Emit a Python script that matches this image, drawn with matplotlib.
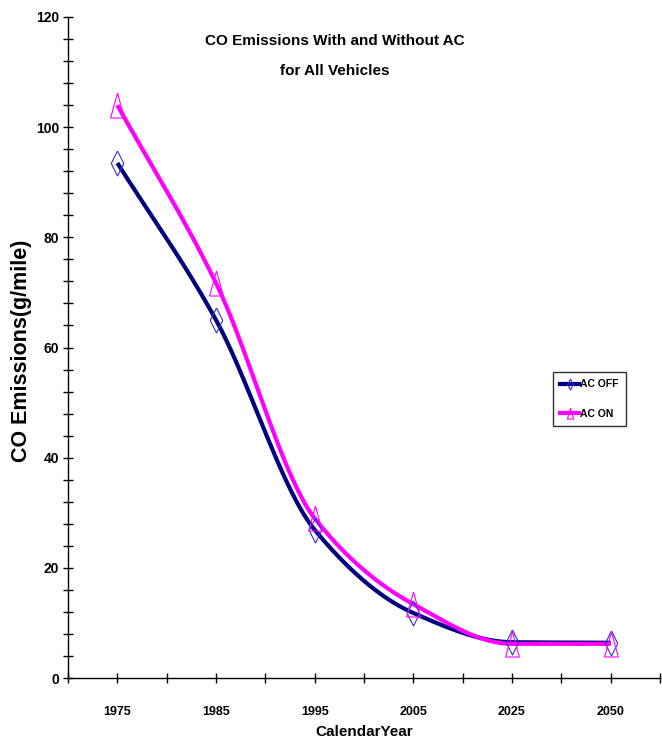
import numpy as np
import matplotlib
matplotlib.use("Agg")
import matplotlib.pyplot as plt
from matplotlib.lines import Line2D
from matplotlib.ticker import FixedLocator, MultipleLocator

categories = ["1975", "1985", "1995", "2005", "2025", "2050"]
ac_off = [93.5, 65.0, 26.9, 11.8, 6.5, 6.4]
ac_on = [104.0, 71.7, 29.0, 13.4, 6.2, 6.2]
title = "CO Emissions With and Without AC\nfor All Vehicles"

FONT = ["Liberation Sans", "DejaVu Sans"]
plt.rcParams["font.family"] = FONT
plt.rcParams["font.weight"] = "bold"


def smooth(xs, ys, n=40):
    xs = np.asarray(xs, float)
    ys = np.asarray(ys, float)
    h = np.diff(xs)
    d = np.diff(ys) / h
    m = np.zeros_like(ys)
    m[0] = d[0]
    m[-1] = d[-1]
    for i in range(1, len(ys) - 1):
        if d[i - 1] * d[i] <= 0:
            m[i] = 0.0
        else:
            m[i] = 2.0 / (1.0 / d[i - 1] + 1.0 / d[i])
    out_x, out_y = [], []
    t = np.linspace(0, 1, n)[:, None]
    for i in range(len(ys) - 1):
        p1 = np.array([xs[i], ys[i]])
        p2 = np.array([xs[i + 1], ys[i + 1]])
        c1 = p1 + np.array([h[i] / 3, m[i] * h[i] / 3])
        c2 = p2 - np.array([h[i] / 3, m[i + 1] * h[i] / 3])
        seg = ((1 - t) ** 3) * p1 + 3 * ((1 - t) ** 2) * t * c1 + 3 * (1 - t) * t ** 2 * c2 + t ** 3 * p2
        if i > 0:
            seg = seg[1:]
        out_x.append(seg[:, 0])
        out_y.append(seg[:, 1])
    return np.concatenate(out_x), np.concatenate(out_y)


diamond = [(0, 1), (0.5, 0), (0, -1), (-0.5, 0), (0, 1)]
triangle = [(0, 1), (0.55, -1), (-0.55, -1), (0, 1)]

fig = plt.figure(figsize=(6.62, 7.49), dpi=100)
ax = fig.add_axes([68 / 662, (749 - 678) / 749, (660 - 68) / 662, (678 - 17) / 749])

x = np.arange(len(categories))
navy = "#000080"
mag = "#FF00FF"

sx, sy = smooth(x, ac_off)
ax.plot(sx, sy, color=navy, lw=3.0, solid_capstyle="butt", zorder=3)
sx, sy = smooth(x, ac_on)
ax.plot(sx, sy, color=mag, lw=3.0, solid_capstyle="butt", zorder=3)
ax.plot(x, ac_off, ls="none", marker=diamond, ms=18, mfc="none", mec="#3333CC", mew=0.8, zorder=4)
ax.plot(x, ac_on, ls="none", marker=triangle, ms=18, mfc="none", mec=mag, mew=0.8, zorder=4)

ax.set_xlim(-0.5, len(categories) - 0.5)
ax.set_ylim(0, 120)
ax.set_xticks(x)
ax.set_xticklabels(categories)
ax.xaxis.set_minor_locator(FixedLocator(np.arange(-0.5, len(categories), 1.0)))
ax.set_yticks(np.arange(0, 121, 20))
ax.yaxis.set_minor_locator(MultipleLocator(4))

for s in ["top", "right"]:
    ax.spines[s].set_visible(False)
for s in ["left", "bottom"]:
    ax.spines[s].set_linewidth(1.0)
ax.tick_params(which="both", direction="inout", length=7, width=1.0)
ax.tick_params(axis="x", which="major", pad=17, labelsize=9)
ax.tick_params(axis="y", which="major", pad=3, labelsize=10)

ax.set_xlabel("CalendarYear", fontsize=11, fontweight="bold", labelpad=5)
fig.text(22 / 662, 1 - 351 / 749, "CO Emissions(g/mile)", rotation=90,
         ha="center", va="center", fontsize=15.5, fontweight="bold")
fig.text(335 / 662, 1 - 56 / 749, title, ha="center", va="center", fontsize=11,
         fontweight="bold", linespacing=2.5)

handles = [
    Line2D([], [], color=navy, lw=3, marker=diamond, ms=8, mfc="none", mec="#3333CC", mew=0.8),
    Line2D([], [], color=mag, lw=3, marker=triangle, ms=8, mfc="none", mec=mag, mew=0.8),
]
leg = ax.legend(handles, ["AC OFF", "AC ON"], loc="upper left",
                bbox_to_anchor=((553 - 68) / 592, (678 - 372) / 661),
                frameon=True, fancybox=False, edgecolor="black",
                prop={"weight": "bold", "size": 7.5}, handlelength=1.8,
                handletextpad=0.1, borderpad=0.7, labelspacing=1.9, borderaxespad=0)
leg.get_frame().set_linewidth(1.0)

fig.savefig("out.png", dpi=100)
